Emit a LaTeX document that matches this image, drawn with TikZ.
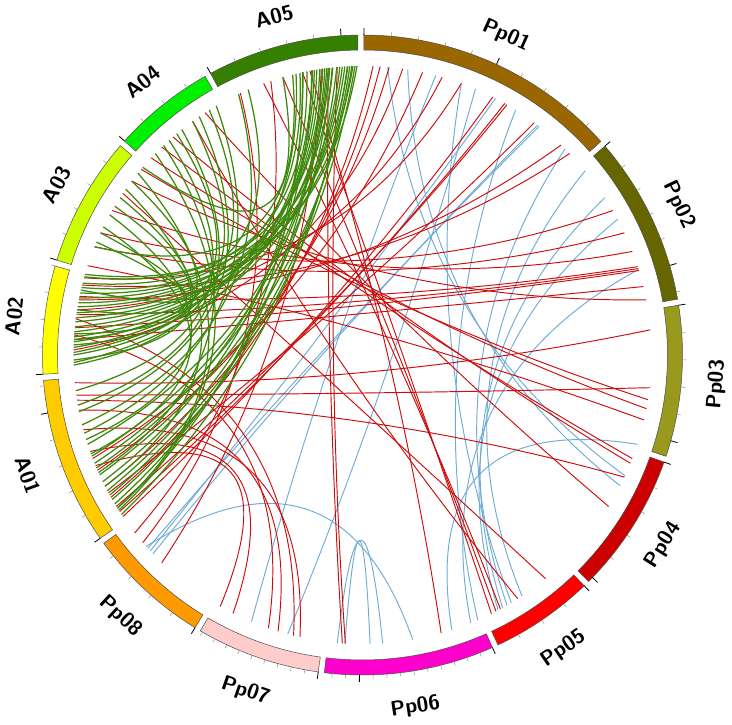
\documentclass[tikz,border=0pt]{standalone}
\usepackage{fontspec}
\usetikzlibrary{calc}
\definecolor{cPpa}{RGB}{153,102,0}
\definecolor{cPpb}{RGB}{102,102,0}
\definecolor{cPpc}{RGB}{153,153,30}
\definecolor{cPpd}{RGB}{204,0,0}
\definecolor{cPpe}{RGB}{255,0,0}
\definecolor{cPpf}{RGB}{255,0,204}
\definecolor{cPpg}{RGB}{255,204,204}
\definecolor{cPph}{RGB}{255,153,0}
\definecolor{cAa}{RGB}{255,204,0}
\definecolor{cAb}{RGB}{255,255,0}
\definecolor{cAc}{RGB}{204,255,0}
\definecolor{cAd}{RGB}{0,240,0}
\definecolor{cAe}{RGB}{53,128,0}
\definecolor{lred}{RGB}{205,12,12}
\definecolor{lgreen}{RGB}{62,136,12}
\definecolor{lblue}{RGB}{110,172,212}
\newcommand\lnk[3]{%
  \pgfmathsetmacro\ld{cos((#1-(#2))/2)*289}%
  \pgfmathsetmacro\lm{(#1+(#2))/2}%
  \pgfmathsetmacro\lq{2/3*(0.169*\ld + (\ld<0 ? -33.4 : 33.4))}%
  \draw[#3] (#1:289) .. controls ($(#1:96.333)+(\lm:\lq)$) and ($(#2:96.333)+(\lm:\lq)$) .. (#2:289);%
}
\tikzset{
  segline/.style={draw=black!70, line width=0.5pt},
  mintick/.style={draw=black!45, line width=0.5pt},
  majtick/.style={draw=black, line width=0.8pt},
  seglab/.style={font=\fontsize{21}{25}\selectfont\sffamily\bfseries, inner sep=0pt},
  grnlink/.style={draw=lgreen, line width=1.25pt},
  redlink/.style={draw=lred, line width=0.95pt},
  blulink/.style={draw=lblue, line width=0.95pt}
}
\begin{document}
\begin{tikzpicture}[x=1pt,y=1pt]
\useasboundingbox (-362.5,-370) rectangle (369.5,355);
% ideogram segments
\foreach \s/\e/\c/\nm in {90.3/41.3/cPpa/sPp01, 41.3/9.5/cPpb/sPp02, 9.5/-19/cPpc/sPp03, -19/-45.6/cPpd/sPp04, -45.6/-65.5/cPpe/sPp05, -65.5/-97.4/cPpf/sPp06, -97.4/-121/cPpg/sPp07, -121/-144.5/cPph/sPp08, -144.5/-176/cAa/sA01, 184/163.3/cAb/sA02, 163.3/138.6/cAc/sA03, 138.6/118.9/cAd/sA04, 118.9/90.3/cAe/sA05}{
  \pgfmathsetmacro\sa{\s-0.55}
  \pgfmathsetmacro\ea{\e+0.55}
  \draw[segline, fill=\c] (\sa:320) arc[start angle=\sa, end angle=\ea, radius=320] -- (\ea:305) arc[start angle=\ea, end angle=\sa, radius=305] -- cycle;
}
% ticks
\foreach \s/\e/\sp/\mj in {90.3/41.3/4.9/5, 41.3/9.5/4.9/5, 9.5/-19/4.9/5, -19/-45.6/4.9/5, -45.6/-65.5/4.9/5, -65.5/-97.4/2.45/10, -97.4/-121/2.45/10, -121/-144.5/4.9/5, -144.5/-176/4.9/5, 184/163.3/4.9/5, 163.3/138.6/4.9/5, 138.6/118.9/4.9/5, 118.9/90.3/4.9/5}{
  \pgfmathtruncatemacro\nt{(\s-\e-1.1)/\sp}
  \foreach \k in {0,...,\nt}{
    \pgfmathsetmacro\ta{\s-0.55-\k*\sp}
    \pgfmathtruncatemacro\ismaj{mod(\k,\mj)==0}
    \ifnum\ismaj=1 \draw[majtick] (\ta:320) -- (\ta:327);\else \draw[mintick] (\ta:320) -- (\ta:324);\fi
  }
}
% labels
\node[seglab, rotate=-24.2] (lPp01) at (65.8:350) {Pp01};
\node[seglab, rotate=-64.6] (lPp02) at (25.4:350) {Pp02};
\node[seglab, rotate=85.25] (lPp03) at (-4.75:356) {Pp03};
\node[seglab, rotate=57.7] (lPp04) at (-32.3:356) {Pp04};
\node[seglab, rotate=34.45] (lPp05) at (-55.55:356) {Pp05};
\node[seglab, rotate=8.55] (lPp06) at (-81.45:356) {Pp06};
\node[seglab, rotate=-19.2] (lPp07) at (-109.2:356) {Pp07};
\node[seglab, rotate=-42.75] (lPp08) at (-132.75:356) {Pp08};
\node[seglab, rotate=-70.25] (lA01) at (-160.25:356) {A01};
\node[seglab, rotate=83.65] (lA02) at (173.65:350) {A02};
\node[seglab, rotate=60.95] (lA03) at (150.95:350) {A03};
\node[seglab, rotate=38.75] (lA04) at (128.75:350) {A04};
\node[seglab, rotate=14.6] (lA05) at (104.6:350) {A05};
% blue links (Pp - Pp)
\foreach \a/\b in {62.6/-137.3, 52.7/-136.5, 52.3/-138, 75.3/-112.6, 67/-105, 45.5/-60, 39.6/-56.5, 17.2/-68, -18/-72, -59/70, -24.7/85, -26.9/81, -95/-86, -93.5/-88.5, -138.5/-80, -61/33, -62/28, -66.5/58}{
  \lnk{\a}{\b}{blulink}
}
% red links (A - Pp)
\foreach \a/\b in {87.9/-150.5, 86.5/-153, 84.7/-156.5, 78/-159, 74/171, 70/164.5, 82/179, 63.2/-146, 60.5/-147.2, 60/-148.4, 53.5/-151.5, 46.6/169, 44.2/166, 25/158, 30/155, 21/150, 17.8/168.3, 17.4/172, 17.0/174.6, 13.7/177, 11/143, 5/-174.5, -6.5/-172, -8.9/140, -10.7/137, -13/162, -21/134, -22/131, -25/-171, -31.6/123, -50.7/146, -57.5/126, -61.5/110, -62.5/106, -63.5/102, -74.2/100.5, -93.4/95, -94/96.8, -102.5/-165, -103.8/172.8, -107/-169, -109/176, -116.6/-160.5, -119.5/-157.5, -134/98.2, -139.5/115, -142/108.5}{
  \lnk{\a}{\b}{redlink}
}
% green links (A - A)
\foreach \a/\b in {91.1/170.4, 91.9/172.6, 92.9/168.6, 93.5/175.4, 94.5/165.6, 95.9/173.4, 96.5/177.4, 97.9/169.6, 98.5/171.6, 99.1/174.4, 100.1/176.4, 101.1/164.3, 102.5/167.6, 103.3/178.5, 113.3/166.5, 94/179.5, 97.5/163.8, 99.6/181.5, 91.5/-150, 92.1/-155.5, 93/-146.5, 95.1/-158, 96/-152, 97.1/-162, 98/-149, 100/-157, 101.9/-154, 115.4/-166, 92.5/-151, 96.8/-159.5, 102/-148, 120.4/-164.3, 124.4/-168.7, 128.7/-170, 132/-172.9, 135.8/-147.5, 133.5/-156, 122/180, 126/182, 130/176.9, 141/-148, 145/-153, 153.7/-160, 151/-163, 143/178, 147/181, 155/171, 149/175.8, 157/167, 158/104, 139.5/106}{
  \lnk{\a}{\b}{grnlink}
}
\end{tikzpicture}
\end{document}
